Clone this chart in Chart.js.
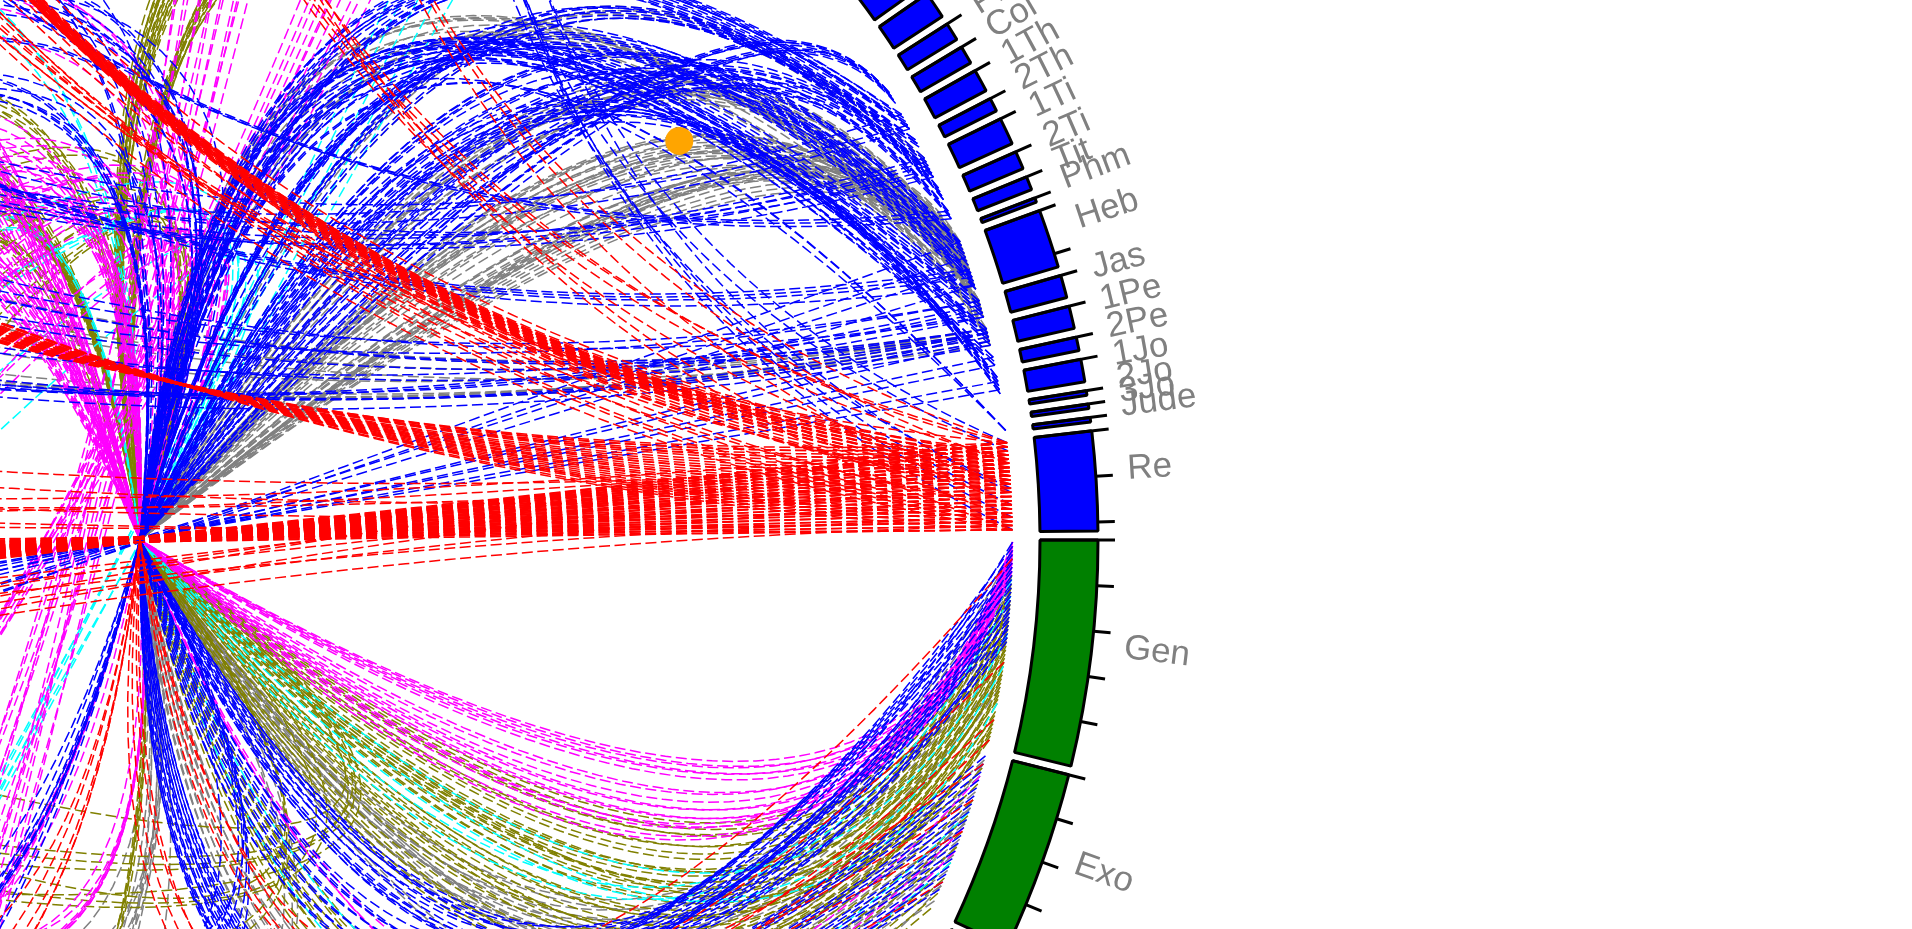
<!DOCTYPE html>
<html>
<head>
<meta charset="utf-8">
<title>Bible cross references</title>
<script src="https://cdn.jsdelivr.net/npm/chart.js@4.4.1/dist/chart.umd.min.js"></script>
<style>
  html, body { margin: 0; padding: 0; width: 1912px; height: 929px; overflow: hidden; background: #fff; }
  #links { position: absolute; left: -860px; top: -460px; }
  #ring { position: absolute; left: -1060px; top: -660px; }
</style>
</head>
<body>
<canvas id="links" width="2000" height="2000"></canvas>
<canvas id="ring" width="2400" height="2400"></canvas>
<script>
// books in canonical order and their chapter counts
const bookNames = ["Gen","Exo","Lev","Num","Deu","Jos","Jdg","Rut","1Sa","2Sa","1Ki","2Ki","1Ch","2Ch","Ezr","Neh","Est","Job","Psa","Pro","Ecc","Sol","Isa","Jer","Lam","Eze","Dan","Hos","Joe","Amo","Oba","Jon","Mic","Nah","Hab","Zep","Hag","Zec","Mal",
  "Mat","Mar","Luk","Joh","Act","Rom","1Co","2Co","Gal","Eph","Phi","Col","1Th","2Th","1Ti","2Ti","Tit","Phm","Heb","Jas","1Pe","2Pe","1Jo","2Jo","3Jo","Jude","Re"]
const bookChapters = [50,40,27,36,34,24,21,4,31,24,22,25,29,36,10,13,10,42,150,31,12,8,66,52,5,48,12,14,3,9,1,4,7,3,3,3,2,14,4,
  28,16,24,21,28,16,16,13,6,6,4,4,5,3,6,4,3,1,13,5,5,3,5,1,1,1,22]
const oldTestamentCount = 39

// cross references: [source chapter, target chapter]
const revPsalms = [[1,121],[1,124],[1,126],[2,122],[2,125],[2,127],[3,123],[3,126],[3,128],[4,124],[4,127],[4,129],[5,125],[5,128],[6,126],[6,129],[6,131],[7,127],[7,130],[7,132],[8,128],[8,131],[9,129],[9,132],[9,134],[10,130],[10,133],[11,131],[11,134],[11,136],[12,132],[12,135],[13,133],[13,136],[14,134],[14,137],[14,139],[15,135],[15,138],[16,136],[16,139],[16,141],[17,137],[17,140],[18,138],[18,141],[18,143],[19,139],[19,142],[20,140],[20,143],[20,145],[21,141],[21,144],[22,142],[22,146]]
const revPsalmsLower = [[2,96],[5,104],[8,91],[12,110],[15,99],[19,107],[21,94],[9,112]]
const revProverbs = [[1,10],[3,3],[5,30],[8,8],[13,24],[17,12],[20,1],[22,5]]
const revDaniel = [[5,7],[6,7],[7,7],[8,7],[9,7],[6,8],[7,8],[8,8],[5,6],[9,6],[10,7],[7,9],[8,9],[6,6],[7,6],[8,6],[9,8],[10,8],[6,9],[5,8],[11,7],[12,7],[4,7],[13,7],[10,9],[13,8],[12,2],[19,7],[17,10],[4,12]]
const revEzekiel = [[1,37],[3,40],[4,38],[11,43],[16,47],[20,48],[21,47],[22,40]]
const revIsaiah = [[1,45],[2,46],[3,47],[4,48],[5,50],[6,50],[7,51],[8,52],[9,53],[10,54],[11,55],[12,57],[13,57],[14,58],[15,59],[16,60],[17,61],[18,62],[19,63],[20,65],[21,65],[22,66],[4,49],[9,54],[14,59],[19,64],[2,47],[12,56]]
const revZechariah = [[1,4],[2,8],[5,4],[11,4],[19,14],[22,13]]
const revMatthew = [[1,24],[6,24],[16,24]]
const revLuke = [[1,21],[3,12],[12,10],[13,24],[16,15],[19,17],[22,17]]

const hebMatthewGray = [[1,3],[2,6],[3,4],[4,4],[6,13],[7,26],[9,26],[11,22],[12,5],[13,15]]
const hebActsGray = [[1,2],[2,7],[3,7],[5,3],[7,7],[8,7],[9,7],[10,13],[11,7],[12,13],[13,2],[4,17]]
const hebCorinthiansGray = [[1,4],[2,5],[3,3],[4,8],[5,5],[6,6],[7,9],[8,3],[9,5],[10,10],[11,12],[12,4],[13,13]]
const jamesRomansGray = [[1,5],[1,12],[2,4],[2,13],[3,2],[4,7],[5,2],[5,12],[1,8],[4,14]]
const jamesCorinthiansGray = [[1,3],[2,13],[3,1],[4,15],[5,6],[1,13],[3,12],[5,16]]
const peterRomansGray = [[1,6],[2,12],[3,13],[4,8],[5,16],[2,9]]
const timLukeGray = [[1,10],[3,12],[5,18],[6,10],[2,14]]
const peterIsaiahGray = [[1,40],[1,53],[2,8],[2,28],[2,53],[3,8],[4,11],[5,40],[1,24],[2,43],[2,9],[3,14]]

const colRomans = [[1,6],[1,8],[2,6],[2,12],[3,6],[3,12],[4,12],[1,16]]
const thess1Matthew = [[4,24],[5,24],[5,25],[1,10],[2,23],[3,10],[5,13],[4,16]]
const thess2Matthew = [[1,25],[2,24],[2,13],[3,10],[1,16],[2,7]]
const tim1Luke = [[1,10],[2,10],[3,12],[5,10],[5,18],[6,12],[4,4],[6,16]]
const tim2Acts = [[1,9],[2,13],[3,16],[4,20],[4,28],[1,27],[3,14]]
const titusActs = [[1,14],[2,20],[3,2],[3,22],[1,26]]
const hebMark = [[1,1],[2,14],[4,12],[6,15],[9,14],[10,15],[11,12],[12,15],[13,14],[5,14]]
const hebJohn = [[1,1],[1,3],[2,1],[3,3],[4,14],[7,17],[9,10],[10,19],[11,8],[12,2],[13,20]]
const jamesMatthew = [[1,7],[2,5],[2,19],[3,5],[4,7],[5,3],[1,25],[4,12]]
const peter1Matthew = [[1,5],[2,5],[2,21],[3,5],[4,10],[5,20],[1,16],[3,26]]
const peter2Matthew = [[1,17],[2,10],[3,24],[1,16],[3,13]]
const john1John = [[1,1],[2,13],[3,15],[4,3],[5,20],[1,4],[2,8],[3,11],[4,9],[5,13]]
const judeMatthew = [[1,24],[1,25],[1,12]]
const jamesIsaiah = [[1,40],[2,1],[3,1],[4,22],[5,5],[5,61],[1,53]]
const peter1Isaiah = [[1,40],[2,6],[2,53],[3,8],[4,11],[5,2],[1,52],[2,28]]
const hebPsalms = [[1,72],[5,75],[8,82],[12,83]]
const peter1Psalms = [[2,96],[4,100]]
const peter2Psalms = [[1,102],[3,106]]
const john1Psalms = [[2,110],[4,112]]
const tim1Jeremiah = [[1,9],[2,5],[3,17],[4,9],[6,10],[5,25]]
const titusEzekiel = [[1,34],[2,36],[3,36]]
const thess1Jeremiah = [[1,9],[4,23],[5,8]]
const hebJeremiah = [[8,31],[10,31],[9,31],[12,31]]

const genLeviticus = [[1,18],[2,21],[3,24],[4,19],[5,26],[6,22]]
const genNumbers = [[1,8],[2,12],[3,16],[4,5],[5,20],[6,14],[7,24],[8,18],[2,28],[4,32],[1,26],[3,35]]
const genDeuteronomy = [[20,4],[22,7],[24,10],[26,1],[28,11],[30,12],[32,6],[34,26],[36,14],[38,21],[40,28],[42,32],[44,2],[46,30],[48,33],[21,5],[25,9],[29,16],[33,22],[37,24]]
const genNumbersOlive = [[9,20],[11,26],[13,32],[15,24],[17,34],[19,36],[12,22],[16,30]]
const genJoshua = [[27,3],[31,8],[35,13],[39,18],[43,24],[47,2],[49,14],[45,21]]
const genJudges = [[1,6],[3,10],[5,2],[7,13],[9,19],[11,21],[13,4],[15,8],[17,16],[19,20],[21,1],[23,11],[25,17]]
const gen1Samuel = [[2,3],[4,9],[6,15],[8,21],[10,27],[12,31],[14,6],[16,12],[18,18],[20,24],[22,30],[24,2]]
const genJoshuaGray = [[3,5],[6,11],[9,17],[12,23],[15,2],[18,8],[21,14],[24,20],[27,24],[30,6],[33,12],[36,18]]
const genDeuteronomyCyan = [[14,31],[23,4],[31,17],[40,9],[10,25]]
const gen2Samuel = [[5,9],[30,20],[44,14],[49,6]]
const exo1Kings = [[1,3],[3,8],[5,12],[7,17],[9,22],[11,5],[13,10],[15,15],[17,20],[19,2],[21,7],[23,12],[25,18],[27,21],[29,4],[31,9],[33,14],[35,19]]
const exo2Samuel = [[2,5],[6,10],[10,15],[14,20],[18,24],[22,3],[26,8],[30,13],[34,18],[38,22]]
const exoJoshuaGray = [[3,5],[12,5],[14,3],[17,8],[23,24],[34,24]]
const exo1Samuel = [[4,12],[8,16],[12,20],[16,24],[20,28],[24,31],[28,4],[32,8],[36,14],[40,19]]
const exo2Kings = [[3,10],[12,17],[20,23],[33,5]]
const exoRuth = [[6,2],[19,4],[25,3]]
const exo1SamuelCyan = [[15,7],[28,19]]

const matthewChronicles = [[1,5],[3,20],[5,12],[8,30],[10,10],[12,25],[14,4],[16,33],[18,15],[20,28],[22,8],[24,18],[26,35],[28,22]]
const lukeJob = [[2,1],[5,3],[9,2],[12,6],[15,9],[18,4],[21,12],[24,8],[7,5],[11,1]]
const johnEzra = [[1,2],[5,6],[10,9],[15,4],[20,8]]
const psalmsZechariah = [[2,1],[8,3],[16,5],[22,7],[34,9],[45,11],[69,13],[89,2],[110,4],[118,6],[132,8],[147,10],[24,12],[78,14]]
const psalmsMatthew = [[2,3],[8,21],[22,27],[31,27],[41,26],[69,27],[78,13],[91,4],[110,22],[118,21]]
const psalmsLuke = [[2,3],[16,24],[22,23],[31,23],[69,23],[110,20],[118,19],[91,4]]
const jobHosea = [[1,2],[3,9],[7,13],[14,6],[19,13],[28,4],[33,6],[38,10]]
const isaiahMark = [[6,4],[29,7],[40,1],[53,15],[56,11],[61,1]]
const isaiahAmos = [[1,5],[5,6],[13,1],[24,9],[34,2],[40,4],[45,5],[53,9],[58,5],[60,9],[65,8],[66,1]]
const jeremiahHosea = [[2,2],[3,4],[7,6],[11,9],[23,12],[31,14],[44,8],[50,11]]
const psalmsDaniel = [[2,7],[8,9],[22,4],[45,2],[72,7],[110,12],[89,10],[145,4]]
const proverbsHosea = [[1,4],[8,14],[14,10],[20,6]]
const psalmsMicah = [[1,1],[5,2],[9,3],[14,4],[25,5],[37,6],[50,7],[72,1],[85,2],[96,3],[103,4],[113,5],[126,6],[139,7],[146,1],[19,2],[33,3],[40,4],[65,5],[98,6]]
const psalmsMark = [[1,4],[8,10],[22,15],[34,14],[41,14],[69,15],[110,12],[118,11],[23,6],[49,8]]
const actsMicah = [[1,1],[2,3],[3,5],[4,7],[5,2],[7,4],[8,6],[9,1],[10,3],[13,5],[15,7],[17,2],[20,4],[22,6],[26,3],[28,5],[6,4],[12,1],[19,6],[24,2]]
const romansHabakkuk = [[1,2],[3,1],[4,3],[9,2],[10,1],[11,3],[15,2],[2,2],[8,1]]
const corinthiansNahum = [[1,1],[5,2],[10,3],[15,1]]
const proverbsZechariah = [[1,7],[3,11],[8,13],[15,3],[24,9],[30,4]]
const jobAmos = [[9,4],[12,5],[26,9],[38,5],[5,8],[36,9],[9,5],[22,1]]
const proverbsMatthew = [[3,6],[8,11],[10,7],[11,5],[16,23],[25,5],[27,6],[29,23]]
const isaiahLuke = [[7,1],[9,1],[40,3],[42,2],[49,2],[53,22],[58,4],[61,4],[35,7],[29,8]]
const jeremiahMatthew = [[7,21],[31,2],[6,16],[23,5],[31,26]]
const psalmsJohn = [[22,19],[41,13],[69,2],[78,6],[82,10],[118,12]]
const jobMicah = [[5,4],[9,6],[38,7]]
const isaiahZechariah = [[40,9],[53,12],[62,9]]
const psalms1Chronicles = [[18,17],[89,17],[96,16],[105,16],[106,16],[132,17],[78,21],[110,29],[2,22],[45,28]]
const psalms1ChroniclesMagenta = [[78,16],[105,17],[96,15],[132,6]]
const psalmsJudges = [[18,5],[68,5],[83,7],[106,2],[78,20],[44,4]]
const psalms2Samuel = [[18,22],[89,7],[132,7],[51,12],[3,15],[60,8],[108,8],[144,22]]
const job2Samuel = [[1,6],[19,22],[26,22]]
const jobJoshua = [[9,10],[26,3],[38,10]]
const job1Kings = [[1,8],[12,8],[28,3],[38,4],[42,3]]
const psalmsDeuteronomy = [[78,32],[90,33],[95,1],[106,9],[135,32]]
const psalmsNumbers = [[78,11],[95,14],[105,20],[106,16],[135,21]]
const proverbs1Kings = [[1,3],[3,3],[4,4],[8,3],[10,4],[25,10],[30,4]]
const psalms2Kings = [[46,19],[48,19],[76,19],[79,25],[137,25]]

// a single highlighted position inside the circle (degrees, fraction of ring radius)
const highlightAngle = -36.5
const highlightRadius = 0.756

// kind "arc": chord between both chapters; kind "hub": drawn from the source, bent by the target, into the centre
const bundles = [
  ["arc", "red", "Re", "Psa", revPsalms],
  ["arc", "red", "Re", "Psa", revPsalmsLower],
  ["arc", "red", "Re", "Pro", revProverbs],
  ["arc", "red", "Re", "Dan", revDaniel],
  ["arc", "red", "Re", "Eze", revEzekiel],
  ["arc", "red", "Re", "Isa", revIsaiah],
  ["arc", "red", "Re", "Zec", revZechariah],
  ["arc", "red", "Re", "Mat", revMatthew],
  ["arc", "blue", "Re", "Luk", revLuke],
  ["hub", "gray", "Heb", "Mat", hebMatthewGray],
  ["hub", "gray", "Heb", "Act", hebActsGray],
  ["hub", "gray", "Heb", "2Co", hebCorinthiansGray],
  ["hub", "gray", "Jas", "Rom", jamesRomansGray],
  ["hub", "gray", "Jas", "1Co", jamesCorinthiansGray],
  ["hub", "gray", "1Pe", "Rom", peterRomansGray],
  ["hub", "gray", "1Ti", "Luk", timLukeGray],
  ["arc", "gray", "1Pe", "Isa", peterIsaiahGray],
  ["hub", "blue", "Col", "Rom", colRomans],
  ["hub", "blue", "1Th", "Mat", thess1Matthew],
  ["hub", "blue", "2Th", "Mat", thess2Matthew],
  ["hub", "blue", "1Ti", "Luk", tim1Luke],
  ["hub", "blue", "2Ti", "Act", tim2Acts],
  ["hub", "blue", "Tit", "Act", titusActs],
  ["hub", "blue", "Heb", "Mar", hebMark],
  ["hub", "blue", "Heb", "Joh", hebJohn],
  ["hub", "blue", "Jas", "Mat", jamesMatthew],
  ["hub", "blue", "1Pe", "Mat", peter1Matthew],
  ["hub", "blue", "2Pe", "Mat", peter2Matthew],
  ["hub", "blue", "1Jo", "Joh", john1John],
  ["hub", "blue", "Jude", "Mat", judeMatthew],
  ["arc", "blue", "Jas", "Isa", jamesIsaiah],
  ["arc", "blue", "1Pe", "Isa", peter1Isaiah],
  ["arc", "blue", "Heb", "Psa", hebPsalms],
  ["arc", "blue", "1Pe", "Psa", peter1Psalms],
  ["arc", "blue", "2Pe", "Psa", peter2Psalms],
  ["arc", "blue", "1Jo", "Psa", john1Psalms],
  ["arc", "blue", "1Ti", "Jer", tim1Jeremiah],
  ["arc", "blue", "Tit", "Eze", titusEzekiel],
  ["arc", "blue", "1Th", "Jer", thess1Jeremiah],
  ["arc", "blue", "Heb", "Jer", hebJeremiah],
  ["hub", "magenta", "Gen", "Lev", genLeviticus],
  ["hub", "magenta", "Gen", "Num", genNumbers],
  ["hub", "olive", "Gen", "Deu", genDeuteronomy],
  ["hub", "olive", "Gen", "Num", genNumbersOlive],
  ["hub", "olive", "Gen", "Jos", genJoshua],
  ["hub", "blue", "Gen", "Jdg", genJudges],
  ["hub", "blue", "Gen", "1Sa", gen1Samuel],
  ["hub", "gray", "Gen", "Jos", genJoshuaGray],
  ["hub", "cyan", "Gen", "Deu", genDeuteronomyCyan],
  ["hub", "red", "Gen", "2Sa", gen2Samuel],
  ["hub", "blue", "Exo", "1Ki", exo1Kings],
  ["hub", "gray", "Exo", "2Sa", exo2Samuel],
  ["hub", "gray", "Exo", "Jos", exoJoshuaGray],
  ["hub", "olive", "Exo", "1Sa", exo1Samuel],
  ["hub", "red", "Exo", "2Ki", exo2Kings],
  ["hub", "magenta", "Exo", "Rut", exoRuth],
  ["hub", "cyan", "Exo", "1Sa", exo1SamuelCyan],
  ["arc", "magenta", "Mat", "2Ch", matthewChronicles],
  ["arc", "magenta", "Luk", "Job", lukeJob],
  ["arc", "cyan", "Joh", "Ezr", johnEzra],
  ["hub", "magenta", "Psa", "Zec", psalmsZechariah],
  ["hub", "magenta", "Psa", "Mat", psalmsMatthew],
  ["hub", "magenta", "Psa", "Luk", psalmsLuke],
  ["hub", "magenta", "Job", "Hos", jobHosea],
  ["hub", "magenta", "Isa", "Mar", isaiahMark],
  ["hub", "magenta", "Isa", "Amo", isaiahAmos],
  ["hub", "magenta", "Jer", "Hos", jeremiahHosea],
  ["hub", "magenta", "Psa", "Dan", psalmsDaniel],
  ["hub", "magenta", "Pro", "Hos", proverbsHosea],
  ["hub", "olive", "Psa", "Mic", psalmsMicah],
  ["hub", "olive", "Psa", "Mar", psalmsMark],
  ["hub", "olive", "Act", "Mic", actsMicah],
  ["hub", "olive", "Rom", "Hab", romansHabakkuk],
  ["hub", "olive", "1Co", "Nah", corinthiansNahum],
  ["hub", "olive", "Pro", "Zec", proverbsZechariah],
  ["hub", "olive", "Job", "Amo", jobAmos],
  ["hub", "blue", "Pro", "Mat", proverbsMatthew],
  ["hub", "blue", "Isa", "Luk", isaiahLuke],
  ["hub", "blue", "Jer", "Mat", jeremiahMatthew],
  ["hub", "cyan", "Psa", "Joh", psalmsJohn],
  ["hub", "cyan", "Job", "Mic", jobMicah],
  ["hub", "cyan", "Isa", "Zec", isaiahZechariah],
  ["hub", "blue", "Psa", "1Ch", psalms1Chronicles],
  ["hub", "blue", "Psa", "Jdg", psalmsJudges],
  ["hub", "magenta", "Psa", "1Ch", psalms1ChroniclesMagenta],
  ["hub", "gray", "Psa", "2Sa", psalms2Samuel],
  ["hub", "gray", "Job", "2Sa", job2Samuel],
  ["hub", "gray", "Job", "Jos", jobJoshua],
  ["hub", "olive", "Job", "1Ki", job1Kings],
  ["hub", "olive", "Psa", "Deu", psalmsDeuteronomy],
  ["hub", "olive", "Psa", "Num", psalmsNumbers],
  ["hub", "magenta", "Pro", "1Ki", proverbs1Kings],
  ["hub", "red", "Psa", "2Ki", psalms2Kings]
]

const colours = { red: "#ff0000", blue: "#0000ff", magenta: "#ff00ff", olive: "#808000", gray: "#808080", cyan: "#00ffff" }
const layer = { red: 1, blue: 2, magenta: 3, cyan: 4, olive: 5, gray: 6 }

// ring layout (pixels), the circle is centred 140px from the left edge
const ringInner = 900
const ringOuter = 958
const tickLength = 17
const labelGap = 32
const linkRadius = 885 / ringInner
const gapChapters = 1.963

const totalUnits = bookChapters.reduce((a, b) => a + b, 0) + gapChapters * bookChapters.length
const degPerChapter = 360 / totalUnits
const bookStart = {}
let running = 0
bookNames.forEach((b, i) => {
  bookStart[b] = running * degPerChapter
  running += bookChapters[i] + gapChapters
})

const rad = d => d * Math.PI / 180
const chapterAngle = (book, ch) => bookStart[book] + (ch - 0.5) * degPerChapter
const onRing = deg => ({ x: linkRadius * Math.cos(rad(deg)), y: linkRadius * Math.sin(rad(deg)) })

function curve(p0, c, p1) {
  const pts = []
  for (let i = 0; i <= 40; i++) {
    const t = i / 40, a = (1 - t) * (1 - t), b = 2 * t * (1 - t), d = t * t
    pts.push({ x: a * p0.x + b * c.x + d * p1.x, y: a * p0.y + b * c.y + d * p1.y })
  }
  return pts
}

const linkSets = []
bundles.forEach(([kind, colour, from, to, pairs]) => {
  pairs.forEach(([c1, c2]) => {
    const a1 = chapterAngle(from, c1), a2 = chapterAngle(to, c2)
    const p1 = onRing(a1), p2 = onRing(a2)
    let pts
    if (kind === "hub") {
      pts = curve(p1, p2, { x: 0, y: 0 })
    } else {
      let sep = Math.abs(a1 - a2) % 360
      if (sep > 180) sep = 360 - sep
      const k = (1 - sep / 180) / 2
      pts = curve(p1, { x: k * (p1.x + p2.x), y: k * (p1.y + p2.y) }, p2)
    }
    linkSets.push({
      data: pts,
      showLine: true,
      borderColor: colours[colour],
      borderWidth: 1.5,
      borderDash: [11, 4.5],
      pointRadius: 0,
      fill: false,
      order: layer[colour]
    })
  })
})

const hl = onRing(highlightAngle)
linkSets.push({
  data: [{ x: hl.x / linkRadius * highlightRadius, y: hl.y / linkRadius * highlightRadius }],
  pointRadius: 14,
  pointBackgroundColor: "#ffa500",
  pointBorderWidth: 0,
  showLine: false,
  order: 0
})

const half = 1000 / ringInner
new Chart(document.getElementById("links"), {
  type: "scatter",
  data: { datasets: linkSets },
  options: {
    responsive: false,
    devicePixelRatio: 1,
    animation: false,
    events: [],
    parsing: false,
    normalized: true,
    layout: { padding: 0 },
    plugins: { legend: { display: false }, tooltip: { enabled: false } },
    scales: {
      x: { type: "linear", min: -half, max: half, display: false },
      y: { type: "linear", min: -half, max: half, reverse: true, display: false }
    }
  }
})

// ring: one segment per book followed by a transparent gap
const ringValues = [], ringFill = [], ringBorder = []
bookChapters.forEach((n, i) => {
  ringValues.push(n, gapChapters)
  ringFill.push(i < oldTestamentCount ? "#008000" : "#0000ff", "rgba(0,0,0,0)")
  ringBorder.push(3, 0)
})

const ringDecor = {
  id: "ringDecor",
  afterDatasetsDraw(chart) {
    const ctx = chart.ctx
    const arcs = chart.getDatasetMeta(0).data
    ctx.save()
    ctx.strokeStyle = "#000"
    ctx.lineWidth = 3
    ctx.fillStyle = "#808080"
    ctx.font = '35px "Liberation Sans", Arial, sans-serif'
    bookNames.forEach((name, i) => {
      const { x, y, startAngle, endAngle, innerRadius, outerRadius } =
        arcs[2 * i].getProps(["x", "y", "startAngle", "endAngle", "innerRadius", "outerRadius"], true)
      const span = endAngle - startAngle
      const ticks = [[startAngle, innerRadius]]
      for (let c = 10; c < bookChapters[i]; c += 10) ticks.push([startAngle + span * c / bookChapters[i], outerRadius])
      ticks.forEach(([a, r0]) => {
        ctx.beginPath()
        ctx.moveTo(x + r0 * Math.cos(a), y + r0 * Math.sin(a))
        ctx.lineTo(x + (outerRadius + tickLength) * Math.cos(a), y + (outerRadius + tickLength) * Math.sin(a))
        ctx.stroke()
      })
      const mid = (startAngle + endAngle) / 2
      const deg = ((mid * 180 / Math.PI) % 360 + 360) % 360
      const flip = deg > 90 && deg < 270
      ctx.save()
      ctx.translate(x, y)
      ctx.rotate(flip ? mid + Math.PI : mid)
      ctx.textBaseline = "alphabetic"
      ctx.textAlign = flip ? "right" : "left"
      ctx.fillText(name, flip ? -(outerRadius + labelGap) : outerRadius + labelGap, 0)
      ctx.restore()
    })
    ctx.restore()
  }
}

new Chart(document.getElementById("ring"), {
  type: "doughnut",
  data: {
    labels: ringValues.map((v, i) => i % 2 ? "" : bookNames[i / 2]),
    datasets: [{
      data: ringValues,
      backgroundColor: ringFill,
      borderColor: "#000",
      borderWidth: ringBorder,
      hoverOffset: 0
    }]
  },
  options: {
    responsive: false,
    devicePixelRatio: 1,
    animation: false,
    events: [],
    rotation: 90,
    radius: ringOuter,
    cutout: (ringInner / ringOuter * 100) + "%",
    layout: { padding: 0 },
    plugins: { legend: { display: false }, tooltip: { enabled: false } }
  },
  plugins: [ringDecor]
})
</script>
</body>
</html>
